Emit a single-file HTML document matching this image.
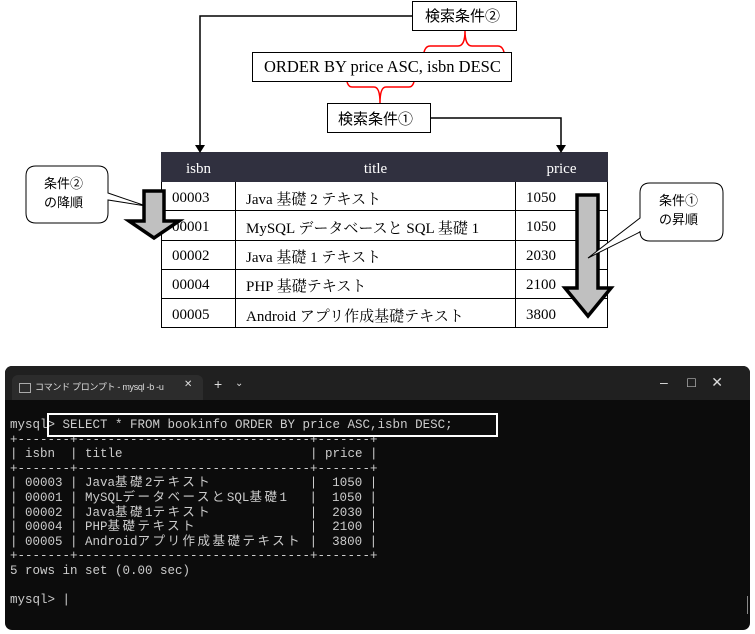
<!DOCTYPE html>
<html><head><meta charset="utf-8"><style>
body{margin:0;width:755px;height:634px;background:#fff;position:relative;overflow:hidden;font-family:"Liberation Serif","Noto Serif CJK SC",serif}
.abs{position:absolute}
.box{position:absolute;border:1px solid #000;background:#fff;box-sizing:border-box;font-size:14px;font-family:"Liberation Sans","Noto Sans CJK JP",sans-serif}
table{position:absolute;left:161px;top:152px;border-collapse:collapse;font-size:15px;font-family:"Liberation Serif","Noto Serif CJK JP",serif}
td,th{border:1px solid #000;height:29.2px;padding:4px 0 0 10px;text-align:left;box-sizing:border-box}
th{background:#30303f;color:#fff;font-weight:normal;text-align:center;padding:4px 0 0 0;border-color:#30303f}
pre{margin:0;font-family:"Liberation Mono","Noto Sans CJK JP",monospace;font-size:12.5px;line-height:14.6px;color:#ccc}
pre span{letter-spacing:2.5px}
</style></head><body>
<table>
<tr><th style="width:74px">isbn</th><th style="width:280px">title</th><th style="width:92px">price</th></tr>
<tr><td>00003</td><td>Java 基礎 2 テキスト</td><td>1050</td></tr>
<tr><td>00001</td><td>MySQL データベースと SQL 基礎 1</td><td>1050</td></tr>
<tr><td>00002</td><td>Java 基礎 1 テキスト</td><td>2030</td></tr>
<tr><td>00004</td><td>PHP 基礎テキスト</td><td>2100</td></tr>
<tr><td>00005</td><td>Android アプリ作成基礎テキスト</td><td>3800</td></tr>
</table>
<svg class="abs" style="left:0;top:0" width="755" height="340">
<polyline points="412,16 200,16 200,146" fill="none" stroke="#000" stroke-width="1.5"/>
<polygon points="195,145 205,145 200,153" fill="#000"/>
<polyline points="431,118 561,118 561,146" fill="none" stroke="#000" stroke-width="1.5"/>
<polygon points="556,145 566,145 561,153" fill="#000"/>
<path d="M423,62 Q423,46 430,46 L458,46 Q465,46 465,31 Q465,46 472,46 L498,46 Q505,46 505,62" fill="none" stroke="red" stroke-width="1.5"/>
<path d="M346,72 Q346,87 352,87 L374,87 Q380,87 380,103 Q380,87 386,87 L409,87 Q415,87 415,72" fill="none" stroke="red" stroke-width="1.5"/>
<path d="M36,166 L98,166 Q108,166 108,176 L108,193 L146,206 L108,200 L108,213 Q108,223 98,223 L36,223 Q26,223 26,213 L26,176 Q26,166 36,166 Z" fill="#fff" stroke="#000" stroke-width="1"/>
<polygon points="144,191 164,191 164,221 179,221 154,238 129,221 144,221" fill="#c0c0c0" stroke="#000" stroke-width="3.5" stroke-linejoin="miter"/>
<polygon points="577,195 598,195 598,288 611,288 588,316 565,288 577,288" fill="#c0c0c0" stroke="#000" stroke-width="3.5"/>
<path d="M650,183 L713,183 Q723,183 723,193 L723,231 Q723,241 713,241 L650,241 Q640,241 640,231 L640,232 L588,258 L640,218 L640,193 Q640,183 650,183 Z" fill="#fff" stroke="#000" stroke-width="1"/>
</svg>
<div class="box" style="left:412px;top:1px;width:105px;height:30px;padding:3px 0 0 12px;font-size:15px">検索条件②</div>
<div class="box" style="left:252px;top:52px;width:260px;height:30px;font-family:'Liberation Serif',serif;font-size:16.5px;padding:4px 0 0 11px;white-space:nowrap">ORDER BY price ASC, isbn DESC</div>
<div class="box" style="left:327px;top:103px;width:104px;height:30px;padding:4px 0 0 10px;font-size:15px">検索条件①</div>
<div class="abs" style="left:44px;top:174px;font-size:13px;line-height:19px;font-family:'Liberation Sans','Noto Sans CJK JP',sans-serif">条件②<br>の降順</div>
<div class="abs" style="left:659px;top:191px;font-size:13px;line-height:19px;font-family:'Liberation Sans','Noto Sans CJK JP',sans-serif;text-align:center">条件①<br>の昇順</div>
<div class="abs" style="left:5px;top:366px;width:745px;height:264px;background:#0c0c0c;border-radius:7px;overflow:hidden">
 <div class="abs" style="left:0;top:0;width:745px;height:34px;background:#202020"></div>
 <div class="abs" style="left:7px;top:9px;width:191px;height:25px;background:#2c2c2c;border-radius:6px 6px 0 0"></div>
 <div class="abs" style="left:14px;top:17px;width:10px;height:8px;border:1px solid #aaa"></div>
 <div class="abs" style="left:30px;top:14px;color:#ddd;font-size:9px;letter-spacing:-0.3px;font-family:'Liberation Sans','Noto Sans CJK JP',sans-serif;white-space:nowrap">コマンド プロンプト - mysql -b -u</div>
 <div class="abs" style="left:179px;top:13px;color:#ddd;font-size:10px;font-family:'Liberation Sans',sans-serif">✕</div>
 <div class="abs" style="left:209px;top:10px;color:#ddd;font-size:14px;font-family:'Liberation Sans',sans-serif">+</div>
 <div class="abs" style="left:230px;top:12px;color:#ddd;font-size:10px;font-family:'Liberation Sans',sans-serif">⌄</div>
 <div class="abs" style="left:655px;top:8px;color:#ddd;font-size:14px;font-family:'Liberation Sans',sans-serif">–&nbsp;&nbsp;&nbsp;&nbsp;&nbsp;□&nbsp;&nbsp;&nbsp;&nbsp;✕</div>
 <div class="abs" style="left:742px;top:230px;width:1px;height:18px;background:#888"></div>
 <pre class="abs" style="left:5px;top:52px">mysql&gt; SELECT * FROM bookinfo ORDER BY price ASC,isbn DESC;
+-------+-------------------------------+-------+
| isbn  | title                         | price |
+-------+-------------------------------+-------+
| 00003 | Java<span>基礎</span>2<span>テキスト</span>             |  1050 |
| 00001 | MySQL<span>データベースと</span>SQL<span>基礎</span>1   |  1050 |
| 00002 | Java<span>基礎</span>1<span>テキスト</span>             |  2030 |
| 00004 | PHP<span>基礎テキスト</span>               |  2100 |
| 00005 | Android<span>アプリ作成基礎テキスト</span> |  3800 |
+-------+-------------------------------+-------+
5 rows in set (0.00 sec)

mysql&gt; |</pre>
 <div class="abs" style="left:42px;top:47px;width:451px;height:24px;border:2px solid #fff;box-sizing:border-box"></div>
</div>
</body></html>
